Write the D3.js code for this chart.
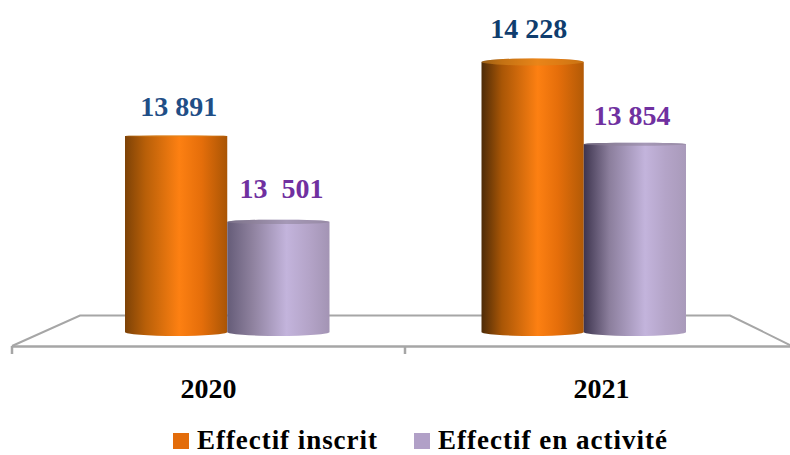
<!DOCTYPE html>
<html>
<head>
	<meta charset="utf-8">
	<title>Effectifs 2020-2021</title>
	<script src="https://d3js.org/d3.v7.min.js"></script>
	<style>
		html, body { margin: 0; padding: 0; background: #fff; }
		svg { display: block; }
		text { font-family: "Liberation Serif", serif; font-weight: bold; }
	</style>
</head>
<body>
	<svg width="790" height="455"></svg>
	<script>
		const years = ['2020', '2021'];
		const series = ['Effectif inscrit', 'Effectif en activité'];
		const inscrit = [13891, 14228];
		const activite = [13501, 13854];
		const inscritLabels = ['13 891', '14 228'];
		const activiteLabels = ['13  501', '13 854'];

		const svg = d3.select('svg');
		const defs = svg.append('defs');

		const baseY = 332;
		const yScale = d3.scaleLinear().domain([13000, 14228]).range([baseY, 62]);

		// the bars stand halfway back on the floor, so they get a narrower band than the axis
		const xBars = d3.scaleBand().domain(years).range([49, 762]);
		const xSeries = d3.scaleBand().domain(series).range([76, 280.5]);
		const xAxis = d3.scaleBand().domain(years).range([12, 798]);

		// shading across the cylinders, the 2021 pair is a bit darker on the left
		function shade(id, stops) {
			const g = defs.append('linearGradient').attr('id', id);
			stops.forEach(s => g.append('stop').attr('offset', s[0]).attr('stop-color', s[1]));
		}
		shade('orange2020', [[0, '#7d4207'], [0.2, '#b85f08'], [0.53, '#fd8012'], [0.75, '#e56e0a'], [1, '#a95505']]);
		shade('orange2021', [[0, '#4d2b07'], [0.2, '#a95606'], [0.55, '#fd8012'], [0.75, '#e56e0a'], [1, '#b25a06']]);
		shade('violet2020', [[0, '#655c78'], [0.25, '#8f829f'], [0.58, '#c3b4dc'], [0.8, '#b4a4c8'], [1, '#a394b4']]);
		shade('violet2021', [[0, '#3e354f'], [0.25, '#8b7e9c'], [0.6, '#c3b4dc'], [0.8, '#b4a4c8'], [1, '#a99aba']]);

		// floor of the chart
		const floor = svg.append('g')
			.attr('fill', 'none')
			.attr('stroke', '#a6a6a6')
			.attr('stroke-width', 2);
		floor.append('path').attr('d', d3.line()([[12, 346], [80, 315.5], [730, 315.5], [792, 346]]));

		const axis = svg.append('g')
			.attr('transform', 'translate(0,346)')
			.call(d3.axisBottom(xAxis).tickSize(0).tickPadding(32));
		axis.select('.domain').attr('stroke', '#a6a6a6').attr('stroke-width', 2.5);
		axis.selectAll('.tick text')
			.attr('fill', '#000')
			.attr('font-size', 28)
			.attr('font-family', '"Liberation Serif", serif');
		axis.selectAll('.sep')
			.data(years)
			.enter()
			.append('line')
			.attr('class', 'sep')
			.attr('x1', d => xAxis(d))
			.attr('x2', d => xAxis(d))
			.attr('y1', 0)
			.attr('y2', 8)
			.attr('stroke', '#a6a6a6')
			.attr('stroke-width', 2.5);

		function cylinder(x, w, top, capRy) {
			const bottom = 4;
			return `M${x},${top}` +
				`A${w / 2},${capRy} 0 0 1 ${x + w},${top}` +
				`V${baseY}` +
				`A${w / 2},${bottom} 0 0 1 ${x},${baseY}Z`;
		}

		function drawBars(name, values, colors, caps, capFill) {
			const group = svg.append('g');
			group.selectAll('path.bar')
				.data(values)
				.enter()
				.append('path')
				.attr('class', 'bar')
				.attr('d', (d, i) => cylinder(xBars(years[i]) + xSeries(name), xSeries.bandwidth(), yScale(d), caps[i]))
				.attr('fill', (d, i) => `url(#${colors}${years[i]})`);
			group.selectAll('ellipse')
				.data(values)
				.enter()
				.append('ellipse')
				.attr('cx', (d, i) => xBars(years[i]) + xSeries(name) + xSeries.bandwidth() / 2)
				.attr('cy', d => yScale(d))
				.attr('rx', xSeries.bandwidth() / 2)
				.attr('ry', (d, i) => caps[i])
				.attr('fill', capFill)
				.attr('fill-opacity', 0.55);
		}
		drawBars(series[0], inscrit, 'orange', [0.6, 3.5], '#d9891f');
		drawBars(series[1], activite, 'violet', [2.2, 1.6], '#8d8298');

		// value labels, nudged by hand around the tops of the bars
		function drawLabels(name, values, labels, colors, nudges) {
			svg.append('g').selectAll('text')
				.data(values)
				.enter()
				.append('text')
				.attr('x', (d, i) => xBars(years[i]) + xSeries(name) + xSeries.bandwidth() / 2 + nudges[i][0])
				.attr('y', (d, i) => yScale(d) - nudges[i][1])
				.attr('text-anchor', 'middle')
				.attr('font-size', 28)
				.attr('fill', (d, i) => colors[i])
				.style('white-space', 'pre')
				.text((d, i) => labels[i]);
		}
		drawLabels(series[0], inscrit, inscritLabels, ['#1f4e86', '#0f3d6e'], [[2.5, 20], [-4, 24]]);
		drawLabels(series[1], activite, activiteLabels, ['#7030a0', '#7030a0'], [[3, 24], [-3, 19]]);

		// legend
		const legendItems = [
			{ square: 173, text: 197, fill: '#e36c0a', spacing: 0.95 },
			{ square: 414, text: 438, fill: '#b1a0c7', spacing: 1 }
		];
		const legend = svg.append('g').selectAll('g')
			.data(series)
			.enter()
			.append('g');
		legend.append('rect')
			.attr('x', (d, i) => legendItems[i].square)
			.attr('y', 433)
			.attr('width', 16)
			.attr('height', 16)
			.attr('fill', (d, i) => legendItems[i].fill);
		legend.append('text')
			.attr('x', (d, i) => legendItems[i].text)
			.attr('y', 449)
			.attr('font-size', 27)
			.attr('letter-spacing', (d, i) => legendItems[i].spacing)
			.attr('fill', '#000')
			.text(d => d);
	</script>
</body>
</html>
